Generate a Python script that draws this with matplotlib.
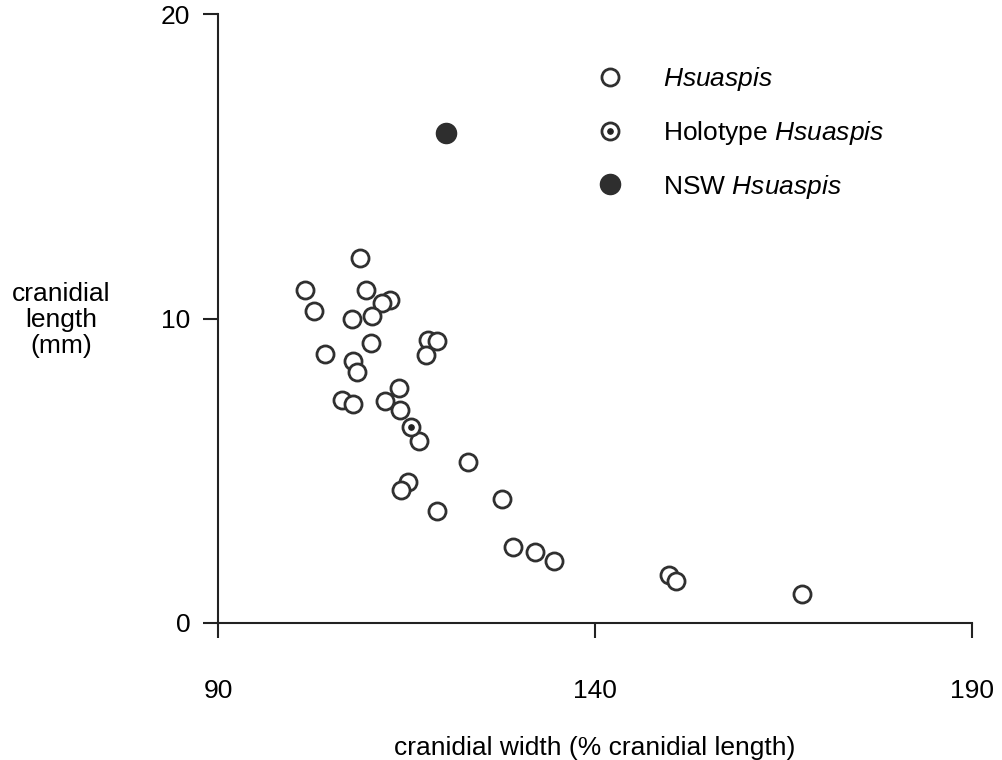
import matplotlib
matplotlib.use("Agg")
import matplotlib.pyplot as plt
from matplotlib.legend_handler import HandlerTuple

# ---- data ----
hsu_width = [108.8, 101.5, 109.6, 112.8, 111.8, 102.7, 107.8, 110.4, 117.8, 119.0,
             110.3, 117.6, 104.2, 107.9, 108.4, 114.0, 106.5, 112.1, 107.9, 114.1,
             116.7, 123.2, 115.2, 114.3, 119.1, 127.7, 129.1, 132.0, 134.6, 149.8,
             150.7, 167.5]
hsu_length = [11.99, 10.94, 10.94, 10.6, 10.52, 10.25, 10.0, 10.08, 9.29, 9.26,
              9.2, 8.8, 8.83, 8.6, 8.25, 7.72, 7.32, 7.29, 7.19, 7.0,
              5.98, 5.30, 4.63, 4.38, 3.68, 4.07, 2.50, 2.33, 2.04, 1.58,
              1.38, 0.95]
holo_width = [115.6]
holo_length = [6.45]
nsw_width = [120.2]
nsw_length = [16.09]

xticks = [90, 140, 190]
yticks = [0, 10, 20]
labels = ["$\\mathit{Hsuaspis}$", "Holotype $\\mathit{Hsuaspis}$", "NSW $\\mathit{Hsuaspis}$"]

plt.rcParams['font.family'] = ['Liberation Sans', 'DejaVu Sans']
plt.rcParams['mathtext.fontset'] = 'custom'
plt.rcParams['mathtext.rm'] = 'Liberation Sans'
plt.rcParams['mathtext.it'] = 'Liberation Sans:italic'

FS = 19
ink = '#222222'

fig = plt.figure(figsize=(10.02, 7.6), dpi=100)
ax = fig.add_axes([218/1002, (760-623)/760, 754/1002, 609/760])

open_kw = dict(linestyle='none', marker='o', markersize=12.3, markerfacecolor='white',
               markeredgecolor='#303030', markeredgewidth=2.0)
h1, = ax.plot(hsu_width, hsu_length, **open_kw)
h2a, = ax.plot(holo_width, holo_length, **open_kw)
h2b, = ax.plot(holo_width, holo_length, linestyle='none', marker='o', markersize=3.8,
               markerfacecolor='#222222', markeredgecolor='#222222')
h3, = ax.plot(nsw_width, nsw_length, linestyle='none', marker='o', markersize=14.5,
              markerfacecolor='#2e2e2e', markeredgecolor='#2e2e2e')

ax.set_xlim(90, 190)
ax.set_ylim(0, 20)
ax.set_xticks(xticks)
ax.set_yticks(yticks)
for s in ['top', 'right']:
    ax.spines[s].set_visible(False)
for s in ['left', 'bottom']:
    ax.spines[s].set_linewidth(1.5)
    ax.spines[s].set_color(ink)
ax.tick_params(axis='x', direction='out', length=11, width=1.5, color=ink,
               labelsize=FS, pad=29)
ax.tick_params(axis='y', direction='out', length=11, width=1.5, color=ink,
               labelsize=FS, pad=9)

ax.set_xlabel("cranidial width (% cranidial length)", fontsize=FS)
ax.xaxis.set_label_coords(0.5, -0.185)
ax.set_ylabel("cranidial\nlength\n(mm)", fontsize=FS, rotation=0, ha='center',
              va='center', linespacing=1.12)
ax.yaxis.set_label_coords(-(218-61)/754, (623-320)/609)

leg = ax.legend([h1, (h2a, h2b), h3], labels,
                handler_map={tuple: HandlerTuple(ndivide=1, pad=0)},
                loc='center left', bbox_to_anchor=(584/1002, 1-133/760),
                bbox_transform=fig.transFigure, frameon=False, fontsize=FS,
                numpoints=1, handlelength=2.0, handletextpad=1.0,
                labelspacing=0.97, borderpad=0, borderaxespad=0)

fig.savefig("out.png", dpi=100)
